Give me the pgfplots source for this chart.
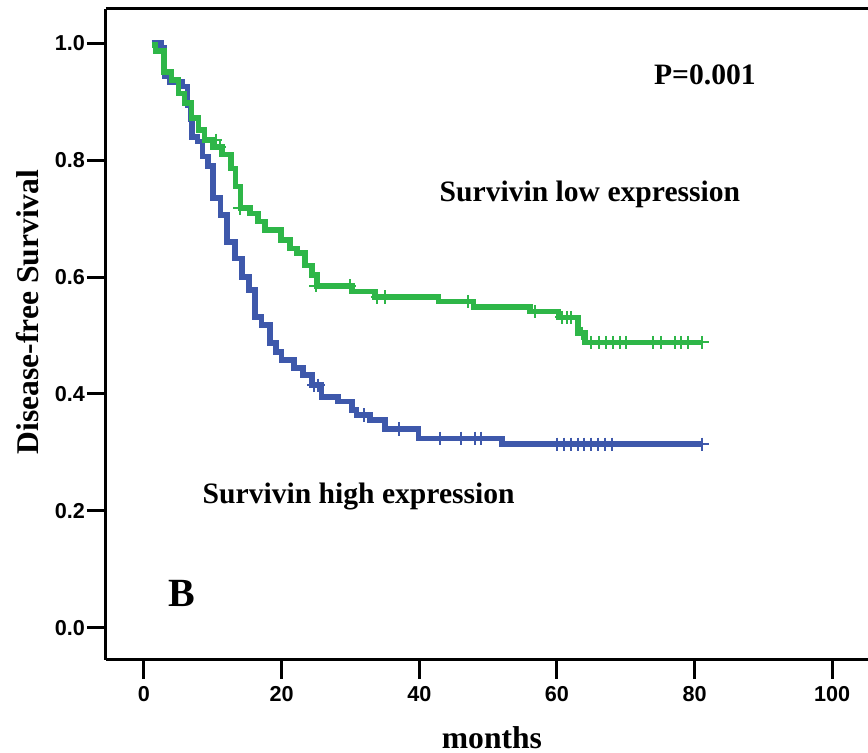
\documentclass[border=0pt]{standalone}
\usepackage{fontspec}
\setmainfont{Liberation Serif}
\newfontfamily\arialfont{Liberation Sans}
\usepackage{pgfplots}
\pgfplotsset{compat=1.18}
\definecolor{kmblue}{RGB}{62,88,171}
\definecolor{kmgreen}{RGB}{46,182,72}

\begin{document}
\begin{tikzpicture}
\begin{axis}[
    name=ax,
    scale only axis,
    width=381pt, height=325.5pt,
    xmin=-5.52, xmax=105.2,
    ymin=-0.0553, ymax=1.0587,
    axis y line*=left,
    xtick pos=bottom, ytick pos=left,
    xtick={0,20,...,100},
    ytick={0,0.2,0.4,0.6,0.8,1.0},
    tick align=outside,
    major tick length=9.5pt,
    every tick/.style={black, line width=1.5pt},
    axis line style={line width=1.5pt},
    tick label style={font=\arialfont\bfseries\fontsize{10.8}{12}\selectfont},
    /pgf/number format/assume math mode=true,
    yticklabel style={xshift=2.5pt, /pgf/number format/.cd, fixed, fixed zerofill, precision=1},
    clip=false,
]
% Survivin high expression
\addplot[kmblue, line width=2.8pt, const plot, mark=none] coordinates {
(1.1,1.0) (2.5,0.993) (3.0,0.943) (3.8,0.934) (5.5,0.926) (6.3,0.894)
(6.8,0.87) (7.0,0.84) (7.8,0.832) (8.5,0.806) (9.3,0.79) (10.0,0.735)
(11.1,0.706) (12.1,0.66) (13.2,0.632) (14.2,0.60) (15.3,0.578) (16.1,0.532)
(17.1,0.518) (18.3,0.487) (19.2,0.472) (20.0,0.458) (21.8,0.444) (23.1,0.432)
(24.4,0.415) (25.8,0.395) (28.2,0.387) (30.2,0.372) (30.9,0.364) (32.8,0.355)
(35.0,0.34) (39.9,0.324) (52.0,0.314) (81.1,0.314)
};
\addplot[kmblue, only marks, mark=+, mark size=3.3pt, mark options={line width=1pt}] coordinates {
(24.7,0.415) (25.3,0.415) (32.0,0.364) (37.0,0.34) (43.0,0.324) (46.0,0.324)
(48.1,0.324) (49.0,0.324) (60,0.314) (61,0.314) (62,0.314) (63,0.314)
(64,0.314) (65,0.314) (66,0.314) (67,0.314) (68,0.314) (81.1,0.314)
};
% Survivin low expression
\addplot[kmgreen, line width=2.8pt, const plot, mark=none] coordinates {
(1.1,0.997) (1.7,0.987) (2.9,0.951) (4.0,0.937) (5.0,0.914) (5.9,0.898)
(6.9,0.872) (7.9,0.852) (8.8,0.834) (10.0,0.823) (11.3,0.81) (12.6,0.786)
(13.3,0.755) (14.0,0.718) (15.4,0.709) (16.6,0.695) (17.6,0.68) (19.9,0.663)
(21.2,0.649) (22.2,0.641) (23.4,0.62) (24.4,0.604) (25.1,0.585) (30.2,0.575)
(33.6,0.566) (42.8,0.558) (47.9,0.549) (56.1,0.541) (60.2,0.531) (63.1,0.504)
(64.1,0.488) (81.1,0.488)
};
\addplot[kmgreen, only marks, mark=+, mark size=3.3pt, mark options={line width=1pt}] coordinates {
(10.4,0.834) (11.0,0.823) (13.9,0.718) (25.0,0.585) (29.9,0.585) (33.9,0.566)
(35.0,0.566) (47.1,0.558) (56.8,0.541) (60.7,0.531) (61.4,0.531) (62.1,0.531)
(63.6,0.504) (65.0,0.488) (66.1,0.488) (67.1,0.488) (68.1,0.488) (69.2,0.488)
(70.0,0.488) (74.0,0.488) (75.1,0.488) (77.1,0.488) (78.0,0.488) (79.1,0.488)
(81.1,0.488)
};
\node[font=\bfseries\fontsize{14.8}{17}\selectfont] at (axis cs:64.8,0.742) {Survivin low expression};
\node[font=\bfseries\fontsize{14.8}{17}\selectfont] at (axis cs:31.2,0.224) {Survivin high expression};
\node[font=\bfseries\fontsize{14.8}{17}\selectfont] at (axis cs:81.5,0.946) {P=0.001};
\node[font=\bfseries\fontsize{20}{24}\selectfont] at (axis cs:5.45,0.059) {B};
\node[font=\bfseries\fontsize{15.8}{18}\selectfont] at (axis cs:50.56,-0.1887) {months};
\node[font=\bfseries\fontsize{15.8}{18}\selectfont, rotate=90] at (axis cs:-16.85,0.540) {Disease-free Survival};
\end{axis}
\pgfresetboundingbox
\path[use as bounding box] ([shift={(-53pt,-46.5pt)}]ax.south west) rectangle ([shift={(0pt,4.5pt)}]ax.north east);
\end{tikzpicture}
\end{document}
